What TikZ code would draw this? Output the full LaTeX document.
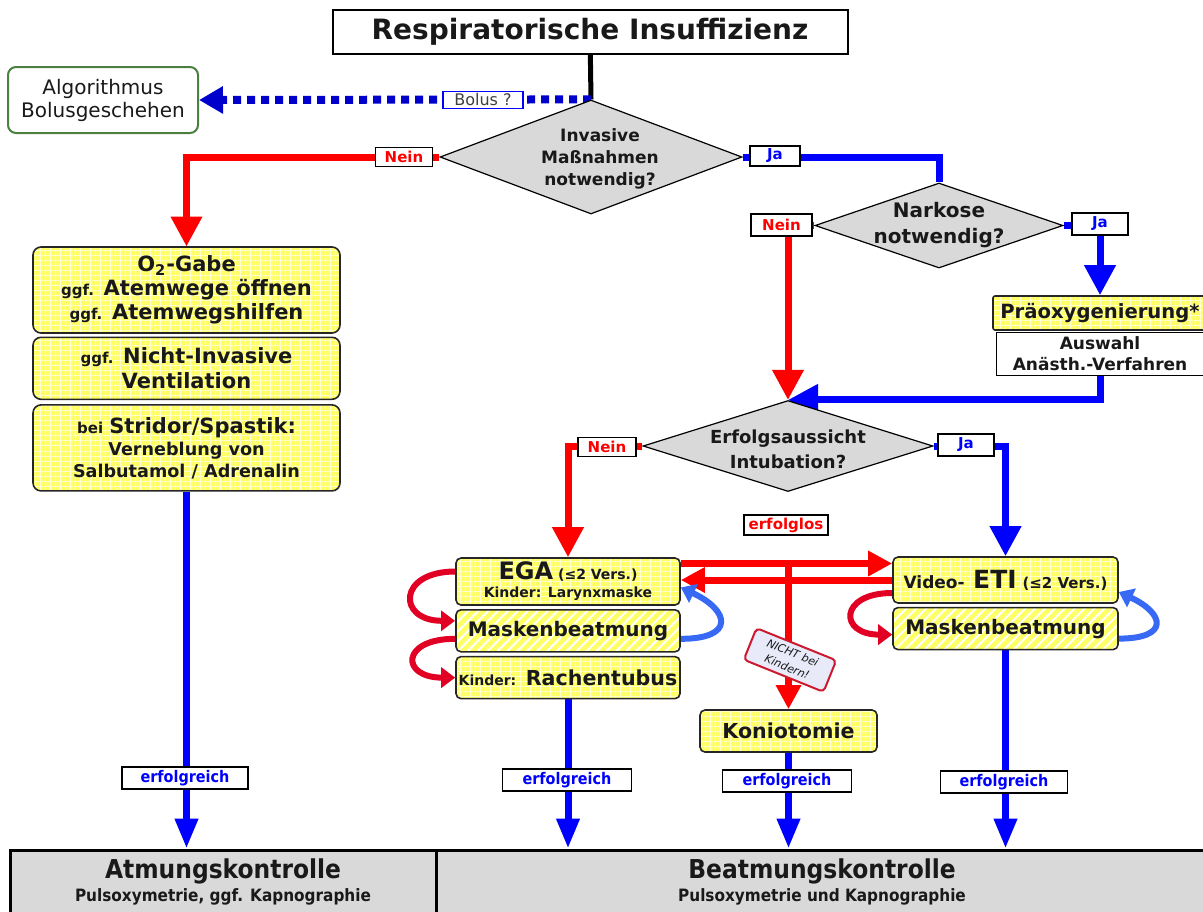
\documentclass[tikz,border=0pt]{standalone}
\usepackage{fontspec}
\setmainfont{DejaVu Sans}
\newfontfamily\condfont{DejaVu Sans Condensed}
\usetikzlibrary{arrows.meta,shapes.geometric,positioning,patterns.meta,backgrounds}

\definecolor{diagray}{RGB}{217,217,217}
\definecolor{boxyellow}{RGB}{255,255,102}
\definecolor{algogreen}{RGB}{76,128,64}
\definecolor{curvered}{RGB}{225,0,35}
\definecolor{curveblue}{RGB}{55,105,245}
\definecolor{bolusblue}{RGB}{0,0,205}
\definecolor{tagfill}{RGB}{232,234,250}
\definecolor{tagred}{RGB}{205,25,45}
\definecolor{txt}{RGB}{25,25,25}

\newcommand{\fsz}[2]{\fontsize{#1}{#2}\selectfont}
\newcommand{\smalltxt}[1]{{\fsz{7.5pt}{9pt}#1}}

\begin{document}
\begin{tikzpicture}[x=0.5pt, y=-0.5pt, text=txt,
    bigtip/.style={-{Triangle[width=15pt,length=15pt]}},
    midtip/.style={-{Triangle[width=12pt,length=12pt]}},
    downtip/.style={-{Triangle[width=11pt,length=15pt]}},
    curvetip/.style={-{Triangle[width=10pt,length=7pt]}},
    redline/.style={draw=red, line width=3.5pt},
    blueline/.style={draw=blue, line width=3.5pt},
    curvedred/.style={draw=curvered, line width=3pt, curvetip},
    curvedblue/.style={draw=curveblue, line width=3pt, curvetip},
    dia/.style={diamond, draw=black, fill=diagray, line width=0.6pt, inner sep=0pt},
    diatext/.style={align=center, font=\bfseries\fsz{8.5pt}{11pt}},
    lab/.style={draw=black, fill=white, line width=0.7pt, inner sep=0pt, minimum height=10pt,
        font=\bfseries\fsz{7.5pt}{9pt}},
    neinlab/.style={lab, text=red},
    jalab/.style={lab, text=blue},
    erflab/.style={lab, text=blue, minimum height=11pt, font=\condfont\bfseries\fsz{8pt}{9pt}},
    ybox/.style={draw=black!85, line width=0.8pt, rounded corners=2.5pt, preaction={fill=boxyellow},
        pattern={Hatch[distance=2.5pt, line width=0.5pt]}, pattern color=white!70!boxyellow,
        align=center, inner sep=0pt, font=\bfseries},
    hbox/.style={ybox, pattern={Lines[angle=45, distance=3.5pt, line width=1pt]}, pattern color=white},
    ctrl/.style={draw=black, line width=1.5pt, fill=diagray, minimum height=32pt, align=center,
        inner sep=0pt, font=\condfont\bfseries\fsz{13pt}{11.5pt}},
]
    \useasboundingbox (0,0) rectangle (1203,911);

    % Nodes {start, decisions, boxes}
    \node [draw, line width=1pt, fill=white, minimum width=257.5pt, minimum height=22pt,
        font=\bfseries\fsz{14pt}{16pt}]                     (insuff)  at (590,32)   {Respiratorische Insuffizienz};
    \node [draw=algogreen, line width=1pt, rounded corners=4pt, minimum width=95pt, minimum height=33pt,
        align=center, font=\fsz{10pt}{11.5pt}]              (algo)    at (103,100)  {Algorithmus\\Bolusgeschehen};

    \node [dia, minimum width=151pt, minimum height=57pt]   (invasiv) at (591,157)  {};
    \node [diatext]                                         (invtxt)  at (600,159)  {Invasive\\Maßnahmen\\notwendig?};
    \node [dia, minimum width=124pt, minimum height=42.5pt] (narkose) at (939,225.5) {};
    \node [diatext, font=\bfseries\fsz{10pt}{13pt}]         (narktxt) at (narkose)  {Narkose\\notwendig?};
    \node [dia, minimum width=145pt, minimum height=45.5pt] (intub)   at (788,446)  {};
    \node [diatext, font=\bfseries\fsz{9pt}{12.5pt}]        (intubtxt) at (788,449) {Erfolgsaussicht\\Intubation?};

    \node [ybox, rounded corners=4pt, minimum width=153.5pt, minimum height=43pt,
        font=\bfseries\fsz{10.5pt}{12pt}]                   (o2)      at (186.5,290)
        {O\textsubscript{2}-Gabe\\\smalltxt{ggf.} Atemwege öffnen\\\smalltxt{ggf.} Atemwegshilfen};
    \node [ybox, rounded corners=4pt, minimum width=153.5pt, minimum height=31pt,
        font=\bfseries\fsz{10.5pt}{12.5pt}]                 (niv)     [below=1.5pt of o2]
        {\smalltxt{ggf.} Nicht-Invasive\\Ventilation};
    \node [ybox, rounded corners=4pt, minimum width=153.5pt, minimum height=43pt,
        font=\bfseries\fsz{8.8pt}{11pt}]                    (stridor) [below=2pt of niv]
        {\smalltxt{bei} {\fsz{10.5pt}{12pt}Stridor/Spastik:}\\Verneblung von\\Salbutamol / Adrenalin};

    \node [ybox, rounded corners=1pt, minimum width=107pt, minimum height=17pt,
        font=\bfseries\fsz{9.8pt}{11pt}]                    (praeox)  at (1100,313) {Präoxygenierung*};
    \node [draw, line width=0.8pt, fill=white, minimum width=103.5pt, minimum height=21.5pt, inner sep=0pt,
        align=center, font=\bfseries\fsz{8.5pt}{10.5pt}]    (auswahl) [below=0.5pt of praeox] {Auswahl\\Anästh.-Verfahren};

    \node [ybox, minimum width=112pt, minimum height=23.5pt, font=\bfseries\fsz{7pt}{9pt}] (ega) at (568,581.5)
        {{\fsz{12pt}{14pt}EGA} (≤2 Vers.)\\Kinder: Larynxmaske};
    \node [hbox, minimum width=112pt, minimum height=21pt, font=\bfseries\fsz{10pt}{12pt}] (maskl) [below=1.5pt of ega]
        {Maskenbeatmung};
    \node [ybox, minimum width=112pt, minimum height=21pt, font=\bfseries\fsz{10.3pt}{12pt}] (rachen) [below=1.5pt of maskl]
        {{\fsz{7pt}{8pt}Kinder:} Rachentubus};
    \node [ybox, minimum width=112.5pt, minimum height=23pt, font=\bfseries\fsz{8.5pt}{10pt}] (eti) at (1005.5,580)
        {Video-\enspace{\fsz{12.5pt}{14pt}ETI} {\fsz{7.5pt}{8pt}(≤2 Vers.)}};
    \node [hbox, minimum width=112.5pt, minimum height=21pt, font=\bfseries\fsz{10pt}{12pt}] (maskr) [below=1.5pt of eti]
        {Maskenbeatmung};
    \node [ybox, minimum width=88.5pt, minimum height=21pt, font=\bfseries\fsz{10.3pt}{12pt}] (konio) at (788.5,731)
        {Koniotomie};
    \node [draw=tagred, fill=tagfill, line width=1pt, rounded corners=2pt, rotate=-22, minimum width=43pt,
        minimum height=17pt, inner sep=1pt, align=center, font=\itshape\fsz{5.5pt}{7.5pt}] (nicht) at (790,660)
        {NICHT bei\\Kindern!};

    \node [ctrl, minimum width=213pt] (atmung) at (223,882)
        {Atmungskontrolle\\{\fsz{8.5pt}{10pt}Pulsoxymetrie, ggf. Kapnographie}};
    \node [ctrl, minimum width=386pt] (beatmung) at (822,882)
        {Beatmungskontrolle\\{\fsz{8.5pt}{10pt}Pulsoxymetrie und Kapnographie}};

    % Labels
    \node [lab, draw=blue, line width=0.6pt, minimum width=40pt, minimum height=8.5pt,
        font=\fsz{8pt}{9pt}, text=black!75]                (bolus)   at (483,100)  {Bolus ?};
    \node [neinlab, minimum width=28.5pt, minimum height=9.5pt] (nein1) at (404,157) {Nein};
    \node [jalab, minimum width=25pt]                      (ja1)     at (775,156)  {Ja};
    \node [neinlab, minimum width=30.5pt, minimum height=11pt] (nein2) at (781.5,225) {Nein};
    \node [jalab, minimum width=28pt, minimum height=11pt]  (ja2)    at (1100,224) {Ja};
    \node [neinlab, minimum width=29pt, minimum height=9.5pt] (nein3) at (607,447) {Nein};
    \node [jalab, minimum width=28pt, minimum height=11pt]  (ja3)    at (966,445)  {Ja};
    \node [neinlab, minimum width=42pt]                     (erfolglos) at (786,525) {erfolglos};
    \node [erflab, minimum width=63pt]                      (erf1)   at (185,778)  {erfolgreich};
    \node [erflab, minimum width=64.5pt]                    (erf2)   at (567,780)  {erfolgreich};
    \node [erflab, minimum width=64.5pt]                    (erf3)   at (787,781)  {erfolgreich};
    \node [erflab, minimum width=63.5pt]                    (erf4)   at (1004,782) {erfolgreich};

    % Paths
    \begin{scope}[on background layer]
    \draw [line width=2.5pt] (insuff) -- (invasiv.north);
    \draw [draw=bolusblue, line width=4pt, dash pattern=on 4pt off 3pt,
        -{Triangle[width=13pt,length=12pt]}]   (invasiv.north) -- (algo.east);
    \draw [redline, bigtip]   (invasiv.west) -| (o2.north);
    \draw [blueline]          (invasiv.east) -| (narkose.north);
    \draw [redline, bigtip]   (narkose.west) -| (intub.north);
    \draw [blueline, bigtip]  (narkose.east) -| (praeox.north);
    \draw [blueline, bigtip]  (auswahl.south) |- (intub.north);
    \draw [redline, bigtip]   (intub.west) -| (ega.north);
    \draw [blueline, bigtip]  (intub.east) -| (eti.north);

    % EGA <-> ETI, Koniotomie
    \coordinate (r1) at ([yshift=9pt]ega.east);
    \draw [redline, midtip]   (r1) -- (r1 -| eti.west);
    \draw [redline, midtip]   (eti.west) -- (eti.west -| ega.east);
    \draw [redline, midtip]   (r1 -| konio.north) -- (konio.north);

    % Loops
    \draw [curvedred]  ([yshift=5pt]ega.west) to [out=180, in=180, looseness=3] ([yshift=5pt]maskl.west);
    \draw [curvedred]  ([yshift=-4pt]maskl.west) to [out=180, in=180, looseness=3.6] (rachen.west);
    \draw [curvedblue] ([yshift=-4pt]maskl.east) to [out=0, in=-25, looseness=2.7] ([yshift=-3pt]ega.east);
    \draw [curvedred]  ([yshift=-6.5pt]eti.west) to [out=180, in=180, looseness=3.3] ([yshift=-3pt]maskr.west);
    \draw [curvedblue] ([yshift=-5pt]maskr.east) to [out=0, in=-25, looseness=2.8] ([yshift=-6pt]eti.east);

    % erfolgreich
    \draw [blueline, downtip] (stridor.south) -- (stridor.south |- atmung.north);
    \draw [blueline, downtip] (rachen.south)  -- (rachen.south |- beatmung.north);
    \draw [blueline, downtip] (konio.south)   -- (konio.south |- beatmung.north);
    \draw [blueline, downtip] (maskr.south)   -- (maskr.south |- beatmung.north);
    \end{scope}
\end{tikzpicture}
\end{document}
